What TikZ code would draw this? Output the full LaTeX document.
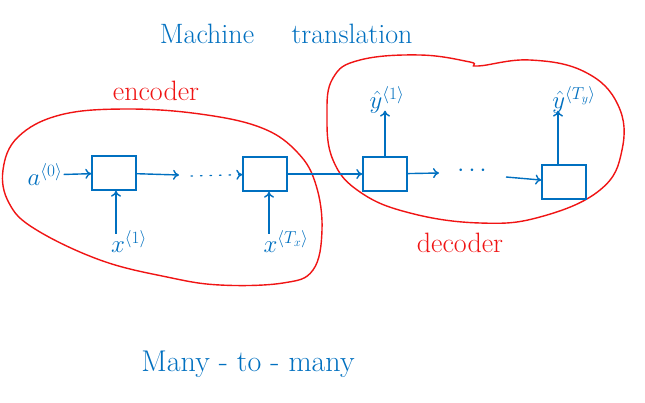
\documentclass[tikz,border=0pt]{standalone}
\usetikzlibrary{arrows.meta}
\definecolor{ink}{RGB}{0,112,192}
\definecolor{pen}{RGB}{240,20,20}
\begin{document}
\begin{tikzpicture}[x=1pt,y=-1pt,
  cell/.style={draw=ink,line width=1.4pt,minimum width=44pt,minimum height=34pt,inner sep=0pt},
  lab/.style={text=ink,inner sep=1pt,font=\fontsize{26}{30}\selectfont},
  word/.style={text=ink,inner sep=0pt,font=\fontsize{28}{32}\selectfont},
  redword/.style={text=pen,inner sep=0pt,font=\fontsize{28}{32}\selectfont},
  link/.style={draw=ink,line width=1.4pt,-{To[length=6pt,width=10pt]}},
  blob/.style={draw=pen,line width=1.4pt}]
\useasboundingbox[fill=white] (0,0) rectangle (645,402);

% titles
\node[word] (t1) at (207,34) {Machine};
\node[word] (t2) at (352,34) {translation};
\node[word,font=\fontsize{30}{34}\selectfont] (t3) at (248,364) {Many - to - many};
\node[redword] (enc) at (156,91) {encoder};
\node[redword] (dec) at (460,243) {decoder};

% encoder / decoder outlines
\draw[blob] plot[smooth cycle,tension=0.65] coordinates {(3,170) (9,203) (35,229) (100,260) (167,277) (220,285) (283,283) (313,270) (322,230) (316,185) (298,153) (262,128) (200,114) (125,109) (60,115) (18,137)};
\draw[blob] plot[smooth cycle,tension=0.7] coordinates {(327,115) (333,78) (360,60) (420,55) (470,62) (478,66) (530,60) (585,72) (618,105) (622,150) (600,190) (540,217) (480,223) (410,213) (360,192) (333,160)};

% encoder cells
\node[cell] (e1) at (114,173) {};
\node[cell] (e2) at (265,174) {};
\node[lab] (a0) at (45,175) {$a^{\langle 0\rangle}$};
\node[lab] (x1) at (129,242) {$x^{\langle 1\rangle}$};
\node[lab] (xt) at (286,242) {$x^{\langle T_x\rangle}$};
\coordinate (ea) at (179,175);
\coordinate (eb) at (191,176);

\draw[link] (a0) -- (e1);
\draw[link] ([xshift=2pt,yshift=-4pt]e1 |- x1.north) -- ([xshift=2pt]e1.south);
\draw[link] ([xshift=4pt,yshift=-4pt]e2 |- xt.north) -- ([xshift=4pt]e2.south);
\draw[link] (e1) -- (ea);
\draw[draw=ink,line width=1.4pt,dash pattern=on 1.5pt off 8pt,line cap=round,-{To[length=6pt,width=10pt]}] (eb) -- (e2);

% decoder cells
\node[cell] (d1) at (385,174) {};
\node[cell] (d2) at (564,182) {};
\node[lab] (y1) at (387,100) {$\hat{y}^{\langle 1\rangle}$};
\node[lab] (yt) at (574,100) {$\hat{y}^{\langle T_y\rangle}$};
\coordinate (da) at (439,173);
\node[text=ink,inner sep=0pt,font=\fontsize{26}{30}\selectfont] (dd) at (472,171) {$\cdots$};
\coordinate (db) at (506,177);

\draw[link] (e2) -- (d1);
\draw[link] (d1.north -| d1) -- ([yshift=4pt]d1 |- y1.south);
\draw[link] ([xshift=-6pt]d2.north) -- ([xshift=-6pt,yshift=4pt]d2.north |- yt.south);
\draw[link] (d1) -- (da);
\draw[link] (db) -- (d2);
\end{tikzpicture}
\end{document}
